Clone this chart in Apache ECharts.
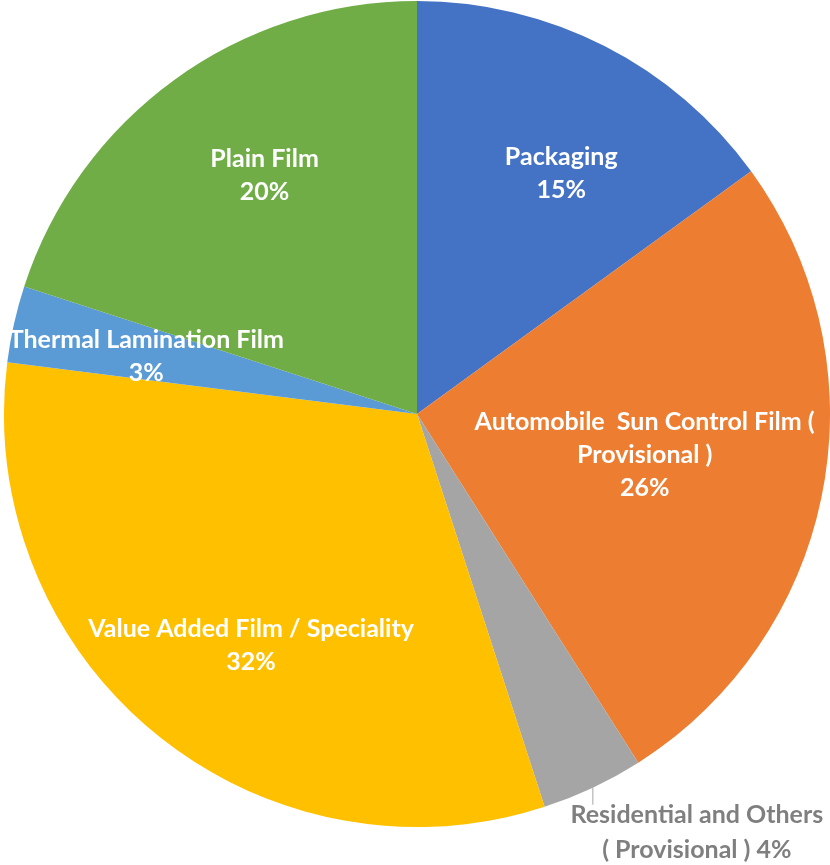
<!DOCTYPE html>
<html>
<head>
<meta charset="utf-8">
<script src="https://cdn.jsdelivr.net/npm/echarts@6/dist/echarts.min.js"></script>
<style>
  html, body { margin: 0; padding: 0; background: #fff; }
  #chart { width: 830px; height: 865px; }
</style>
</head>
<body>
<div id="chart"></div>
<script>
// Film market share by segment
const categories = [
  'Packaging',
  'Automobile  Sun Control Film ( Provisional )',
  'Residential and Others ( Provisional )',
  'Value Added Film / Speciality',
  'Thermal Lamination Film',
  'Plain Film'
];
const shares = [15, 26, 4, 32, 3, 20];
const colors = ['#4472C4', '#ED7D31', '#A5A5A5', '#FFC000', '#5B9BD5', '#70AD47'];

// label text lines (how each label wraps); {p} is replaced by the share
const labelLines = [
  ['Packaging', '{p}%'],
  ['Automobile  Sun Control Film (', 'Provisional )', '{p}%'],
  ['Residential and Others', '( Provisional ) {p}%'],
  ['Value Added Film / Speciality', '{p}%'],
  ['Thermal Lamination Film', '{p}%'],
  ['Plain Film', '{p}%']
];
// label placement: fraction of the radius and angular nudge (degrees) from the slice middle
const labelRadius = [0.68, 0.56, 1.0, 0.69, 0.67, 0.685];
const labelNudge = [3.9, -0.6, 0, -4, -0.6, 3.4];

const CX = 417, CY = 414, R = 413;
const total = shares.reduce((a, b) => a + b, 0);
const midAngles = [];
let acc = 0;
shares.forEach(v => { midAngles.push((acc + v / 2) / total * 2 * Math.PI); acc += v; });

const chart = echarts.init(document.getElementById('chart'));

const data = categories.map((name, i) => {
  const item = { name, value: shares[i], itemStyle: { color: colors[i] } };
  if (i === 2) {
    // the small grey slice carries its label outside, with a leader
    item.label = { position: 'outside', color: '#7F7F7F', lineHeight: 35, overflow: 'none' };
    item.labelLine = { show: true, length: 17, length2: 0, lineStyle: { color: '#A5A5A5', width: 1 } };
  }
  return item;
});

chart.setOption({
  animation: false,
  series: [{
    type: 'pie',
    center: [CX, CY],
    radius: R,
    startAngle: 90,
    clockwise: true,
    avoidLabelOverlap: false,
    data,
    label: {
      show: true,
      position: 'inside',
      color: '#FFFFFF',
      fontFamily: 'Lato',
      fontWeight: 'bold',
      fontSize: 25,
      lineHeight: 33,
      align: 'center',
      formatter: p => labelLines[p.dataIndex].join('\n').replace('{p}', p.value)
    },
    labelLine: { show: false },
    labelLayout: function (params) {
      const i = params.dataIndex;
      const a = midAngles[i];
      if (i === 2) {
        const ex = CX + R * Math.sin(a);
        const ey = CY - R * Math.cos(a);
        const lineEnd = ey + 17;
        return {
          x: ex + 104,
          y: lineEnd + 28,
          align: 'center',
          verticalAlign: 'middle',
          labelLinePoints: [[ex, ey], [ex, lineEnd], [ex, lineEnd]]
        };
      }
      const r = R * labelRadius[i];
      const b = a + labelNudge[i] * Math.PI / 180;
      return {
        x: CX + r * Math.sin(b),
        y: CY - r * Math.cos(b),
        align: 'center',
        verticalAlign: 'middle'
      };
    }
  }]
});
</script>
</body>
</html>
